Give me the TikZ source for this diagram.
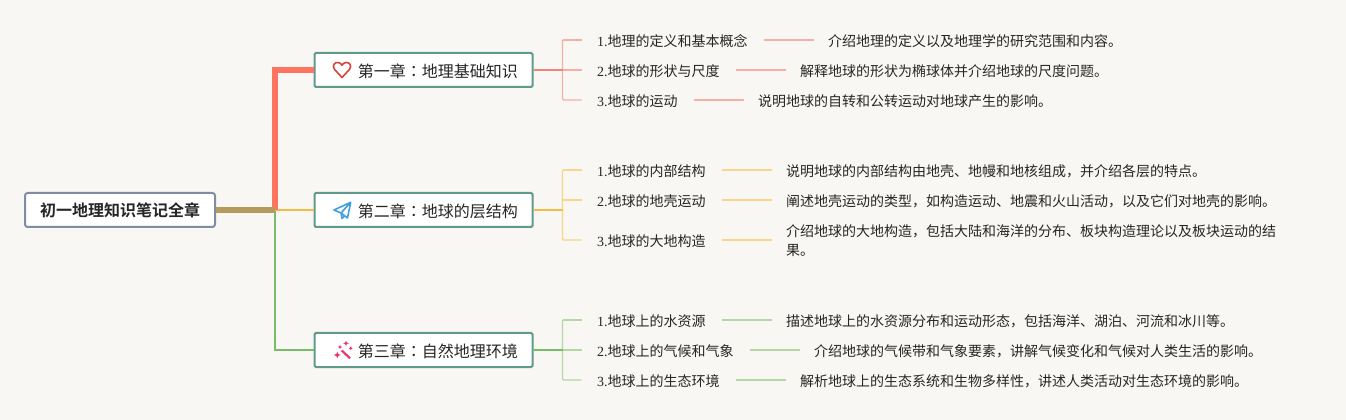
\documentclass[tikz,border=0pt]{standalone}
\usepackage{fontspec}
\setmainfont{Liberation Serif}
\newfontfamily\cjk{Noto Sans CJK SC}
\newfontfamily\cjkjp{Noto Sans CJK JP}
\newfontfamily\cjkb{Noto Sans CJK SC Bold}
\definecolor{bgc}{HTML}{F8F7F4}
\definecolor{rootb}{HTML}{7F8CA3}
\definecolor{chapb}{HTML}{5F9A8C}
\definecolor{redA}{HTML}{FF7361}
\definecolor{redB}{HTML}{F4B0A6}
\definecolor{redC}{HTML}{EE8377}
\definecolor{tanA}{HTML}{B59A5F}
\definecolor{yelA}{HTML}{F2BE3F}
\definecolor{yelB}{HTML}{F8D58A}
\definecolor{grnA}{HTML}{79BB68}
\definecolor{grnB}{HTML}{B3D8A5}
\definecolor{txt}{HTML}{262626}
\definecolor{iconR}{HTML}{D8443B}
\definecolor{iconB}{HTML}{3EA0DC}
\definecolor{iconM}{HTML}{E8336D}
\tikzset{
 x=0.75pt,y=-0.75pt,
 rootbox/.style={draw=rootb,line width=1.5pt,fill=white,rounded corners=2pt,minimum width=142.5pt,minimum height=25.5pt,inner sep=0pt,font=\cjkb\fontsize{12pt}{14pt}\selectfont,text=txt},
 chapbox/.style={draw=chapb,line width=1.5pt,fill=white,rounded corners=1pt,minimum width=163.5pt,minimum height=25.5pt,inner sep=0pt},
 chaptext/.style={anchor=west,inner sep=0pt,font=\cjk\fontsize{12pt}{14pt}\selectfont,text=txt},
 leaf/.style={anchor=west,inner sep=0pt,outer sep=0pt,font=\cjk\fontsize{10.5pt}{14pt}\selectfont,text=txt},
 detail/.style={anchor=west,inner sep=0pt,outer sep=0pt,font=\cjk\fontsize{10.5pt}{14.2pt}\selectfont,text=txt,align=left},
 redleaf/.style={draw=redB,line width=1.1pt,rounded corners=1pt},
 yelleaf/.style={draw=yelB,line width=1.1pt,rounded corners=1pt},
 grnleaf/.style={draw=grnB,line width=1.1pt,rounded corners=1pt},
 gapline/.style={shorten <=12pt,shorten >=10.5pt},
}
\newcommand{\dg}[1]{{\fontspec{Liberation Serif}#1}}
\newcommand{\cln}{{\cjkjp ：}}
\begin{document}
\begin{tikzpicture}
\useasboundingbox (0,0) rectangle (1346,420);
\fill[bgc] (0,0) rectangle (1346,420);
% nodes
\node[rootbox] (root) at (120,210) {初一地理知识笔记全章};
\node[chapbox] (c1) at (423.5,70) {};
\node[chapbox] (c2) at (423.5,210) {};
\node[chapbox] (c3) at (423.5,350) {};
\node[chaptext] (c1t) at (357.5,71) {第一章\cln 地理基础知识};
\node[chaptext] (c2t) at (357.5,211) {第二章\cln 地球的层结构};
\node[chaptext] (c3t) at (357.5,351) {第三章\cln 自然地理环境};
\coordinate (j) at (275,210);
% leaves
\node[leaf] (a1) at (597,41) {\dg{1.}地理的定义和基本概念};
\node[leaf] (a2) at (597,71) {\dg{2.}地球的形状与尺度};
\node[leaf] (a3) at (597,101) {\dg{3.}地球的运动};
\node[detail] (a1d) at (828,41) {介绍地理的定义以及地理学的研究范围和内容。};
\node[detail] (a2d) at (800,71) {解释地球的形状为椭球体并介绍地球的尺度问题。};
\node[detail] (a3d) at (758,101) {说明地球的自转和公转运动对地球产生的影响。};
\node[leaf] (b1) at (597,171) {\dg{1.}地球的内部结构};
\node[leaf] (b2) at (597,201) {\dg{2.}地球的地壳运动};
\node[leaf] (b3) at (597,241) {\dg{3.}地球的大地构造};
\node[detail] (b1d) at (786,171) {说明地球的内部结构由地壳、地幔和地核组成，并介绍各层的特点。};
\node[detail] (b2d) at (786,201) {阐述地壳运动的类型，如构造运动、地震和火山活动，以及它们对地壳的影响。};
\node[detail] (b3d) at (786,241) {介绍地球的大地构造，包括大陆和海洋的分布、板块构造理论以及板块运动的结\\果。};
\node[leaf] (g1) at (597,321) {\dg{1.}地球上的水资源};
\node[leaf] (g2) at (597,351) {\dg{2.}地球上的气候和气象};
\node[leaf] (g3) at (597,381) {\dg{3.}地球上的生态环境};
\node[detail] (g1d) at (786,321) {描述地球上的水资源分布和运动形态，包括海洋、湖泊、河流和冰川等。};
\node[detail] (g2d) at (814,351) {介绍地球的气候带和气象要素，讲解气候变化和气候对人类生活的影响。};
\node[detail] (g3d) at (800,381) {解析地球上的生态系统和生物多样性，讲述人类活动对生态环境的影响。};
% connector heights sit one pixel above the text centre
\foreach \p in {a1,a2,a3,b1,b2,b3,g1,g2,g3}{
 \coordinate (\p s) at ([yshift=.75pt]\p.west);
 \coordinate (\p e) at ([yshift=.75pt]\p.east);
 \coordinate (\p f) at ([yshift=.75pt]\p d.west);
}
% trunk connectors
\draw[draw=grnA,line width=1.5pt] (j) |- (c3.west);
\draw[draw=yelA,line width=1.5pt] (j) -- (c2.west);
\draw[draw=redA,line width=4.5pt] (root.east -| j) |- (c1.west);
\draw[draw=tanA,line width=4.5pt] (root.east) -- (j);
% branch to leaves
\path (c1.east) ++(29,0) coordinate (ra) (c2.east) ++(29,0) coordinate (ya) (c3.east) ++(29,0) coordinate (ga);
\draw[redleaf] (ra |- a1s) -- ++(19,0);
\draw[redleaf] (ra |- a1s) -- (ra |- a3s) -- ++(19,0);
\draw[redleaf] (ra |- a2s) -- ++(19,0);
\draw[yelleaf] (ya |- b1s) -- ++(19,0);
\draw[yelleaf] (ya |- b1s) -- (ya |- b3s) -- ++(19,0);
\draw[yelleaf] (ya |- b2s) -- ++(19,0);
\draw[grnleaf] (ga |- g1s) -- ++(19,0);
\draw[grnleaf] (ga |- g1s) -- (ga |- g3s) -- ++(19,0);
\draw[grnleaf] (ga |- g2s) -- ++(19,0);
% chapter to branch points
\draw[draw=redC,line width=1.4pt] (c1.east) -- (ra);
\draw[draw=yelA,line width=1.4pt] (c2.east) -- (ya);
\draw[draw=grnA,line width=1.4pt] (c3.east) -- (ga);
% leaf to detail
\foreach \p/\s in {a1/redleaf,a2/redleaf,a3/redleaf,b1/yelleaf,b2/yelleaf,b3/yelleaf,g1/grnleaf,g2/grnleaf,g3/grnleaf}{
 \draw[\s,gapline] (\p e) -- (\p f);
}
% icons
\draw[draw=iconR,line width=1.2pt,line join=round]
 (342,77.5) -- (334.6,69.5) .. controls (331.5,65.5) and (335,62) .. (338,62.5) .. controls (340,62.7) and (341.3,64) .. (342,65.2) .. controls (342.7,64) and (344,62.7) .. (346,62.5) .. controls (349,62) and (352.5,65.5) .. (349.4,69.5) -- cycle;
\draw[draw=iconB,line width=1.2pt,line join=round]
 (350.7,202.3) -- (334,210) -- (341,213) -- (350.7,202.3) -- (347.5,218) -- (341,213) -- (342,218.5) -- (344.8,215.8);
\draw[draw=iconM,line width=1.6pt] (341.7,350.5) -- (350,358.3);
\fill[iconM]
 (337.3,351.8) -- (338.3,354) -- (340.6,355) -- (338.3,356) -- (337.3,358.2) -- (336.3,356) -- (334,355) -- (336.3,354) -- cycle
 (346,340.5) -- (346.8,342.5) -- (348.8,343.3) -- (346.8,344.1) -- (346,346.1) -- (345.2,344.1) -- (343.2,343.3) -- (345.2,342.5) -- cycle
 (340,345) -- (340.7,346.3) -- (342,347) -- (340.7,347.7) -- (340,349) -- (339.3,347.7) -- (338,347) -- (339.3,346.3) -- cycle
 (350.7,346.3) -- (351.4,347.6) -- (352.7,348.3) -- (351.4,349) -- (350.7,350.3) -- (350,349) -- (348.7,348.3) -- (350,347.6) -- cycle;
\end{tikzpicture}
\end{document}
